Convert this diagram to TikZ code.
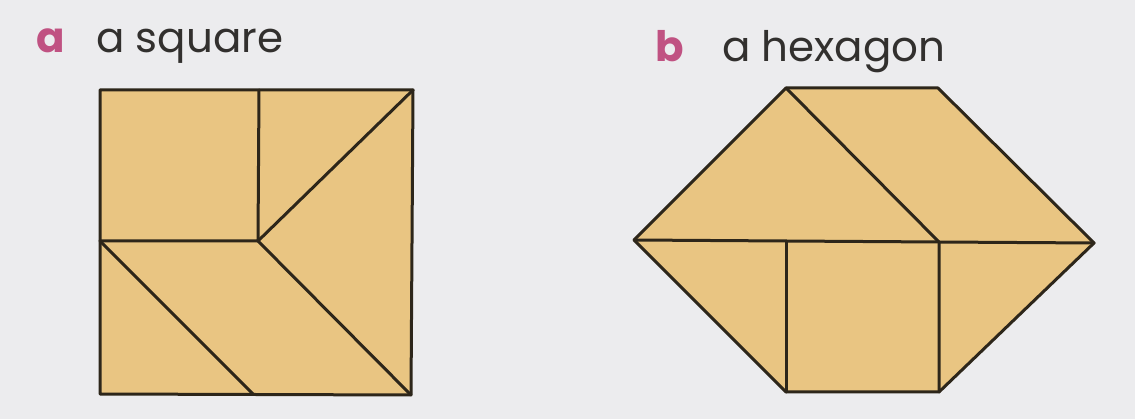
\documentclass[tikz,border=0pt]{standalone}
\usepackage{fontspec}
\setmainfont{Poppins}
\definecolor{bgc}{RGB}{236,236,238}
\definecolor{tan}{RGB}{233,197,130}
\definecolor{edge}{RGB}{45,38,26}
\definecolor{pinkc}{RGB}{192,82,130}
\definecolor{textc}{RGB}{50,48,46}
\begin{document}
\begin{tikzpicture}[x=1pt,y=-1pt,
  piece/.style={fill=tan,draw=edge,line width=3pt,line join=round,line cap=round},
  cut/.style={draw=edge,line width=3pt,line cap=round},
  lbl/.style={anchor=base west,inner sep=0pt,font=\fontsize{42}{46}\selectfont,text=textc},
  letter/.style={anchor=base west,inner sep=0pt,font=\fontsize{42}{46}\selectfont\bfseries,text=pinkc}]
\fill[bgc] (0,0) rectangle (1135,419);
\useasboundingbox (0,0) rectangle (1135,419);
% labels
\node[letter] (la) at (36,53) {a};
\node[lbl] (ta) at (96,53) {a square};
\node[letter] (lb) at (655,62) {b};
\node[lbl] (tb) at (722,62) {a hexagon};
% square
\coordinate (TL) at (100,90);
\coordinate (T) at (259,90);
\coordinate (TR) at (413,90);
\coordinate (BR) at (411,395);
\coordinate (BL) at (100,394);
\coordinate (M) at (258,241);
\coordinate (L) at (100,241);
\coordinate (B) at (253,394);
\path[piece] (TL) -- (TR) -- (BR) -- (BL) -- cycle;
\draw[cut] (T) -- (M) -- (L);
\draw[cut] (TR) -- (M) -- (BR);
\draw[cut] (L) -- (B);
% hexagon
\coordinate (HTL) at (786,88);
\coordinate (HTR) at (938,88);
\coordinate (HR) at (1094,243);
\coordinate (HBR) at (939,392);
\coordinate (HBL) at (786,392);
\coordinate (HL) at (634,240);
\coordinate (M1) at (786,241);
\coordinate (M2) at (939,242);
\path[piece] (HTL) -- (HTR) -- (HR) -- (HBR) -- (HBL) -- (HL) -- cycle;
\draw[cut] (HL) -- (M1) -- (M2) -- (HR);
\draw[cut] (HTL) -- (M2) -- (HBR);
\draw[cut] (M1) -- (HBL);
\end{tikzpicture}
\end{document}
